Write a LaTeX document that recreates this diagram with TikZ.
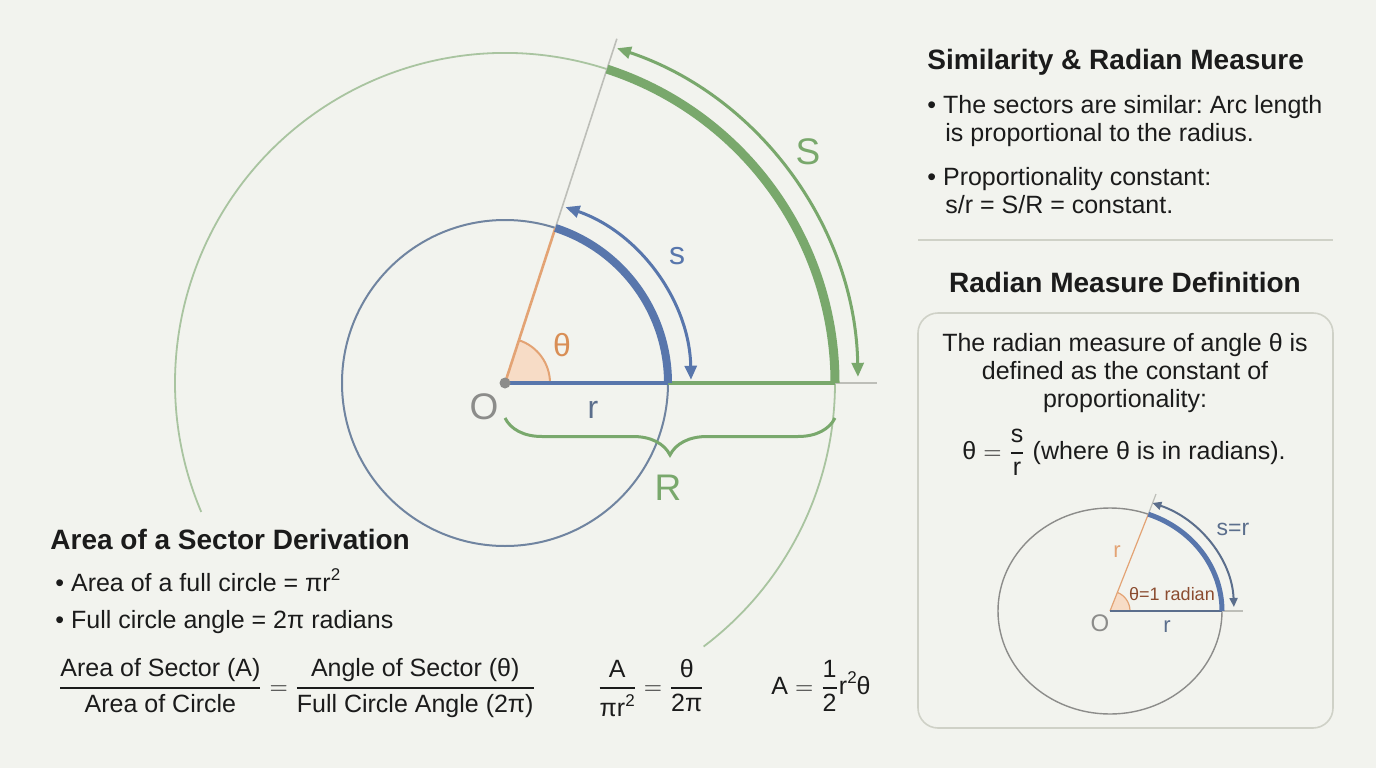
\documentclass[tikz,border=0pt]{standalone}
\usepackage{amsmath}
\usepackage{fontspec}
\setmainfont{Liberation Sans}
\usetikzlibrary{arrows.meta,decorations.pathreplacing}
\frenchspacing
\definecolor{bgcol}{HTML}{F2F3EE}
\definecolor{arcblue}{HTML}{5876AC}
\definecolor{arcgreen}{HTML}{79A86C}
\definecolor{circblue}{HTML}{7084A0}
\definecolor{circgreen}{HTML}{A9C4A0}
\definecolor{rayorange}{HTML}{E3A374}
\definecolor{thetaorange}{HTML}{D98E55}
\definecolor{wedgefill}{HTML}{F7DCC6}
\definecolor{raygray}{HTML}{BDBEB8}
\definecolor{labgray}{HTML}{8C8C8A}
\definecolor{labblue}{HTML}{5B6E8C}
\definecolor{radbrown}{HTML}{8B4C30}
\definecolor{panelline}{HTML}{CFD1C7}
\definecolor{inkcol}{HTML}{1B1B1B}
\newcommand{\eqfrac}[2]{\genfrac{}{}{0.9pt}{0}{\hbox{#1}}{\hbox{#2}}}
\newcommand{\sqtwo}{\raisebox{0.42em}{\fontsize{8.5}{9}\selectfont 2}}
\tikzset{
  headtext/.style={font=\fontsize{14}{16}\selectfont\bfseries, text=inkcol, inner sep=0pt},
  bodytext/.style={font=\fontsize{12.5}{15}\selectfont, text=inkcol, inner sep=0pt},
  eqtext/.style={font=\fontsize{12.5}{14}\selectfont, text=inkcol, inner sep=0pt},
  biglabel/.style={font=\fontsize{18.5}{20}\selectfont, inner sep=0pt},
  midlabel/.style={font=\fontsize{16}{18}\selectfont, inner sep=0pt},
  dblarrow/.style={{Triangle[length=7pt,width=6pt]}-{Triangle[length=7pt,width=6pt]}},
  smallarrow/.style={{Triangle[length=4.5pt,width=4pt]}-{Triangle[length=4.5pt,width=4pt]}},
}

\begin{document}
\begin{tikzpicture}[x=0.5pt,y=0.5pt]
  \fill[bgcol] (0,0) rectangle (1376,768);
  \useasboundingbox (0,0) rectangle (1376,768);

  % two concentric circles, same angle
  \coordinate (O) at (505,385);
  \coordinate (P) at ([shift={(72:163)}]O);
  \coordinate (Q) at ([shift={(72:362)}]O);
  \coordinate (A) at ([shift={(163,0)}]O);
  \coordinate (B) at ([shift={(330,0)}]O);
  \coordinate (C) at ([shift={(372,0)}]O);
  \draw[circblue, line width=1pt] (O) circle[radius=163];
  \draw[circgreen, line width=0.9pt] ([shift={(72:330)}]O) arc[start angle=72, end angle=203, radius=330];
  \draw[circgreen, line width=0.9pt] ([shift={(-53:330)}]O) arc[start angle=-53, end angle=0, radius=330];
  \draw[raygray, line width=0.8pt] (P) -- (Q);
  \draw[raygray, line width=0.8pt] (B) -- (C);
  \fill[wedgefill] (O) -- ([shift={(45,0)}]O) arc[start angle=0, end angle=72, radius=45] -- cycle;
  \draw[rayorange, line width=1pt] ([shift={(45,0)}]O) arc[start angle=0, end angle=72, radius=45];
  \draw[rayorange, line width=1.3pt] (O) -- (P);
  \draw[arcblue, line width=1.6pt] (O) -- (A);
  \draw[arcgreen, line width=1.6pt] (A) -- (B);
  \draw[arcblue, line width=4pt] (A) arc[start angle=0, end angle=72, radius=163];
  \draw[arcgreen, line width=4.5pt] (B) arc[start angle=0, end angle=72, radius=330];
  \draw[arcblue, line width=1.5pt, dblarrow] ([shift={(1:186)}]O) arc[start angle=1, end angle=71, radius=186];
  \draw[arcgreen, line width=1.5pt, dblarrow] ([shift={(1:353)}]O) arc[start angle=1, end angle=71.5, radius=353];
  \fill[labgray] (O) circle[radius=5.5];
  \draw[arcgreen, line width=1.5pt, decorate, decoration={brace, amplitude=18.5pt, mirror}]
    ([shift={(0,-35)}]O) -- ([shift={(330,-35)}]O);
  \node[biglabel, text=labgray] (Olab) at (484,361) {O};
  \node[midlabel, text=labblue] (rlab) at (593,358) {r};
  \node[biglabel, text=arcgreen] (Rlab) at (668,280) {R};
  \node[midlabel, text=arcblue] (slab) at (677,512) {s};
  \node[biglabel, text=arcgreen] (Slab) at (808,616) {S};
  \node[midlabel, text=thetaorange] (thlab) at (562,423) {θ};

  % similarity panel
  \node[headtext, anchor=base west] (simhead) at (927,698) {Similarity \& Radian Measure};
  \node[bodytext, anchor=base west] (sim1) at (927,655) {• The sectors are similar: Arc length};
  \node[bodytext, anchor=base west] (sim2) at (945,627) {is proportional to the radius.};
  \node[bodytext, anchor=base west] (sim3) at (927,583) {• Proportionality constant:};
  \node[bodytext, anchor=base west] (sim4) at (945,555) {s/r = S/R = constant.};
  \draw[panelline, line width=0.8pt] (918,528) -- (1333,528);

  % definition panel
  \node[headtext, anchor=base] (defhead) at (1125,476) {Radian Measure Definition};
  \draw[panelline, line width=0.8pt, rounded corners=10] (918,40) rectangle (1333,455);
  \node[bodytext, anchor=base] (def1) at (1125,417) {The radian measure of angle θ is};
  \node[bodytext, anchor=base] (def2) at (1125,389) {defined as the constant of};
  \node[bodytext, anchor=base] (def3) at (1125,361) {proportionality:};
  \node[bodytext, anchor=base] (def4) at (1124,309) {θ $=$ $\eqfrac{s}{r}$ (where θ is in radians).};

  % one radian
  \coordinate (O2) at (1110,157);
  \coordinate (P2) at ([shift={(38.3,96.8)}]O2);
  \coordinate (Q2) at ([shift={(46,117)}]O2);
  \coordinate (A2) at ([shift={(112,0)}]O2);
  \coordinate (C2) at ([shift={(133,0)}]O2);
  \draw[labgray, line width=0.7pt] (O2) ellipse[x radius=112, y radius=103];
  \fill[wedgefill] (O2) -- ([shift={(20,0)}]O2) arc[start angle=0, end angle=68.4, radius=20] -- cycle;
  \draw[rayorange, line width=0.6pt] ([shift={(20,0)}]O2) arc[start angle=0, end angle=68.4, radius=20];
  \draw[raygray, line width=0.6pt] (P2) -- (Q2);
  \draw[raygray, line width=0.6pt] (A2) -- (C2);
  \draw[rayorange, line width=0.6pt] (O2) -- (P2);
  \draw[labblue, line width=0.8pt] (O2) -- (A2);
  \draw[arcblue, line width=2.5pt] (A2) arc[start angle=0, end angle=70, x radius=112, y radius=103];
  \draw[labblue, line width=1pt, smallarrow] ([shift={(123.9,4)}]O2) arc[start angle=2, end angle=70, x radius=124, y radius=115];
  \node[font=\fontsize{9}{10}\selectfont, text=radbrown, inner sep=0pt] (onerad) at (1172,174) {θ=1 radian};
  \node[font=\fontsize{11}{12}\selectfont, text=rayorange, inner sep=0pt] (rside) at (1117,216) {r};
  \node[font=\fontsize{11.5}{12}\selectfont, text=labblue, inner sep=0pt] (sr) at (1233,239) {s=r};
  \node[font=\fontsize{12}{13}\selectfont, text=labgray, inner sep=0pt] (O2lab) at (1100,145) {O};
  \node[font=\fontsize{11}{12}\selectfont, text=labblue, inner sep=0pt] (rbase) at (1167,141) {r};

  % area of a sector
  \node[headtext, anchor=base west] (areahead) at (50,219) {Area of a Sector Derivation};
  \node[bodytext, anchor=base west] (area1) at (55,177) {• Area of a full circle = πr\sqtwo};
  \node[bodytext, anchor=base west] (area2) at (55,140) {• Full circle angle = 2π radians};
  \node[eqtext, anchor=base] (eq1) at (297,74)
    {$\eqfrac{Area of Sector (A)}{Area of Circle} = \eqfrac{Angle of Sector (θ)}{Full Circle Angle (2π)}$};
  \node[eqtext, anchor=base] (eq2) at (651,74) {$\eqfrac{A}{πr\sqtwo} = \eqfrac{θ}{2π}$};
  \node[eqtext, anchor=base] (eq3) at (821,74) {A $=$ $\eqfrac{1}{2}$r\sqtwo θ};
\end{tikzpicture}
\end{document}
